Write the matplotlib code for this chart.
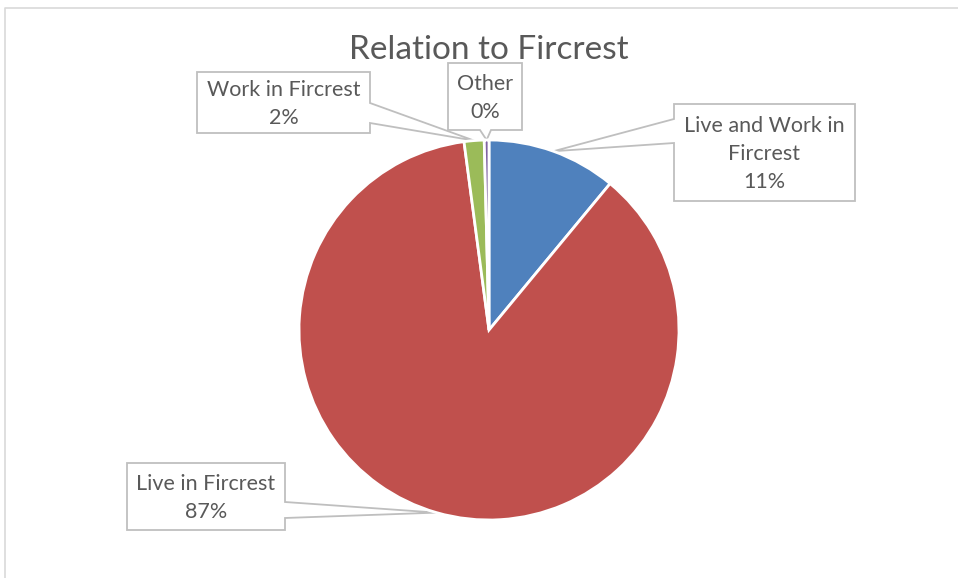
import numpy as np
import matplotlib
matplotlib.use('Agg')
import matplotlib.pyplot as plt
from matplotlib.patches import Polygon

# data
labels = ['Live and Work in\nFircrest', 'Live in Fircrest', 'Work in Fircrest', 'Other']
shares = [11.0, 86.9, 1.7, 0.4]
pct_text = ['11%', '87%', '2%', '0%']
colors = ['#4F81BD', '#C0504D', '#9BBB59', '#8064A2']

W, H = 958, 578
TXT = '#595959'
EDGE = '#BFBFBF'
FONT = ['Lato', 'DejaVu Sans']

fig = plt.figure(figsize=(W / 100, H / 100), dpi=100)

# overlay in pixel coords for frame, title and callouts
ov = fig.add_axes([0, 0, 1, 1])
ov.set_xlim(0, W)
ov.set_ylim(H, 0)
ov.axis('off')

# pie axes: centre (489, 330), radius 190 px
cx, cy, r = 489, 330, 190
ax = fig.add_axes([(cx - r) / W, (H - cy - r) / H, 2 * r / W, 2 * r / H])
wedges, _ = ax.pie(shares, colors=colors, startangle=90, counterclock=False,
                   radius=1, wedgeprops=dict(edgecolor='white', linewidth=2))
ax.set_xlim(-1, 1)
ax.set_ylim(-1, 1)
ax.axis('off')

# outer chart frame (only left/top visible)
ov.plot([5, 5, W], [H, 8, 8], color='#D9D9D9', lw=1.2, solid_capstyle='butt')

ov.text(489, 50, 'Relation to Fircrest', ha='center', va='center',
        fontsize=24, color=TXT, family=FONT)


def anchor(w, rad=1.0):
    a = np.deg2rad((w.theta1 + w.theta2) / 2)
    pt = ax.transData.transform((rad * np.cos(a), rad * np.sin(a)))
    return ov.transData.inverted().transform(pt)


def callout(box, side, span, tip, text):
    x0, y0, x1, y1 = box
    if side == 'left':
        pts = [(x0, y0), (x1, y0), (x1, y1), (x0, y1), (x0, span[1]), tip, (x0, span[0])]
    elif side == 'right':
        pts = [(x0, y0), (x1, y0), (x1, span[0]), tip, (x1, span[1]), (x1, y1), (x0, y1)]
    else:  # bottom
        pts = [(x0, y0), (x1, y0), (x1, y1), (span[1], y1), tip, (span[0], y1), (x0, y1)]
    ov.add_patch(Polygon(pts, closed=True, facecolor='white', edgecolor=EDGE,
                         lw=1.3, joinstyle='miter', zorder=3))
    ov.text((x0 + x1) / 2, (y0 + y1) / 2 + 1, text, ha='center', va='center',
            fontsize=15.5, color=TXT, family=FONT, linespacing=1.5, zorder=4)


layout = [
    ((674, 104, 855, 201), 'left', (119, 143)),
    ((127, 463, 285, 530), 'right', (502, 518)),
    ((197, 72, 370, 133), 'right', (103, 123)),
    ((448, 63, 522, 130), 'bottom', (480, 491)),
]
for w, lab, pct, (box, side, span) in zip(wedges, labels, pct_text, layout):
    callout(box, side, span, anchor(w, 1.0), f'{lab}\n{pct}')

fig.savefig('out.png', dpi=100)
